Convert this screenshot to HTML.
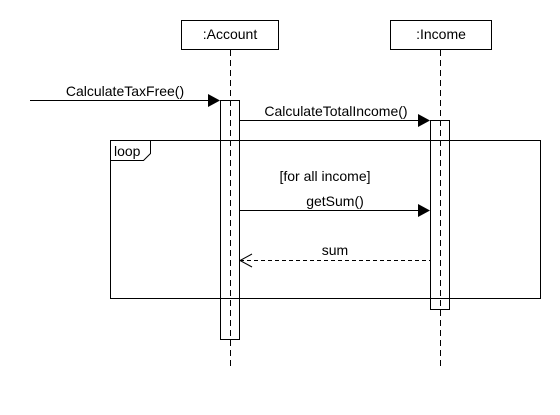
<!DOCTYPE html>
<html><head><style>body{margin:0;background:#fff}</style></head><body>
<svg width="560" height="410" xmlns="http://www.w3.org/2000/svg" font-family="Liberation Sans, sans-serif" font-size="14">
<rect width="560" height="410" fill="#fff"/>
<line x1="230.5" y1="50" x2="230.5" y2="370" stroke="#000" stroke-dasharray="6,4"/>
<line x1="440.5" y1="50" x2="440.5" y2="370" stroke="#000" stroke-dasharray="6,4"/>
<rect x="181.5" y="20.5" width="97" height="29" fill="#fff" stroke="#000"/>
<text x="230" y="39" text-anchor="middle">:Account</text>
<rect x="390.5" y="20.5" width="101" height="29" fill="#fff" stroke="#000"/>
<text x="441" y="39" text-anchor="middle">:Income</text>
<rect x="110.5" y="140.5" width="430" height="158" fill="none" stroke="#000"/>
<path d="M110.5 160.5 H143.5 L150.5 153.5 V140.5" fill="none" stroke="#000"/>
<text x="114" y="156">loop</text>
<rect x="220.5" y="100.5" width="19" height="239" fill="none" stroke="#000"/>
<rect x="430.5" y="120.5" width="19" height="189" fill="none" stroke="#000"/>
<line x1="30" y1="100.5" x2="210" y2="100.5" stroke="#000"/>
<polygon points="208,94 220,100.5 208,107" fill="#000"/>
<text x="125" y="96" text-anchor="middle">CalculateTaxFree()</text>
<line x1="240" y1="120.5" x2="420" y2="120.5" stroke="#000"/>
<polygon points="418,114 430,120.5 418,127" fill="#000"/>
<text x="336" y="116" text-anchor="middle">CalculateTotalIncome()</text>
<text x="325" y="181" text-anchor="middle">[for all income]</text>
<line x1="240" y1="210.5" x2="420" y2="210.5" stroke="#000"/>
<polygon points="418,204 430,210.5 418,217" fill="#000"/>
<text x="335" y="206" text-anchor="middle">getSum()</text>
<line x1="240" y1="260.5" x2="430" y2="260.5" stroke="#000" stroke-dasharray="4,3"/>
<polyline points="252,254 240,260.5 252,267" fill="none" stroke="#000"/>
<text x="335" y="255" text-anchor="middle">sum</text>
</svg>
</body></html>
